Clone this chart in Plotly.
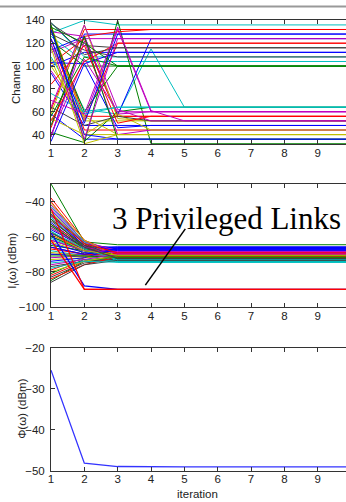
import plotly.graph_objects as go

iterations = list(range(1, 11))

# ---------------- top panel: channel of each link per iteration (held after last listed value)
channel_paths = [
    [129, 140, 136], [62, 132], [38, 128], [112, 124], [132, 52, 120], [137, 118, 116],
    [100, 112], [138, 108], [126, 104], [122, 100], [118, 62, 58, 115, 64], [96, 54, 132, 60],
    [134, 56], [136, 52], [94, 48], [124, 44], [106, 40], [58, 36], [42, 33, 140, 32],
    [114, 126, 57, 124], [102, 124, 56], [130, 126, 58, 60], [136, 34, 60, 64], [58, 136, 54, 52],
    [103, 102, 46, 48], [128, 114, 108], [131, 60, 100], [76, 60, 64], [38, 122, 40, 44],
    [54, 40, 58, 44], [46, 126, 130, 132], [34, 102, 112], [56, 108, 100], [64, 48, 56, 52],
    [64, 136, 62, 52], [100, 56, 40], [84, 118, 50, 56], [108, 58, 64], [48, 126, 36],
    [132, 40, 36], [40, 106, 60], [116, 32, 40], [52, 104, 120], [138, 110, 116],
    [124, 50, 128], [134, 120, 100], [120, 36, 124], [70, 58, 134, 61, 52],
]
channel_colors = [
    "c", "r", "b", "m", "r", "k", "b", "c", "c", "g", "c", "m", "r", "y", "b", "r", "y", "b", "g",
    "b", "r", "m", "g", "y", "b", "k", "g", "c", "m", "y", "r", "b", "g", "k", "m", "y", "r", "c",
    "g", "b", "m", "y", "r", "k", "b", "g", "m", "m",
]

# ---------------- middle panel: interference per link at iterations 1, 2 and steady value (3..10)
interf_start = [
    -52, -30, -40, -47, -58, -55, -62,
    -45, -85, -79, -49, -42, -66, -83,
    -60, -57, -38, -68, -50, -63, -70,
    -48, -65, -82, -54, -72, -46, -58,
    -56, -81, -53, -61, -44, -73, -51,
    -64, -50, -59, -75, -66, -41, -77,
    -70, -60, -67, -43, -55, -80, -47,
    -74, -53, -84, -57, -62, -69, -86,
    -66, -71, -48, -78, -76, -59, -54,
]
interf_iter2 = [
    -66, -63, -64, -66, -66, -67, -68,
    -64, -74, -72, -65, -63, -70, -75,
    -67, -70, -62, -71, -65, -69, -71,
    -65, -68, -74, -66, -71, -64, -67,
    -66, -73, -65, -68, -63, -72, -65,
    -69, -66, -67, -73, -70, -62, -74,
    -70, -68, -70, -63, -66, -74, -64,
    -72, -67, -76, -67, -68, -71, -76,
    -70, -71, -64, -74, -73, -68, -66,
]
interf_steady = [
    -66.5, -64.6, -69.5, -73.5, -68.5, -71.0, -72.0,
    -67.0, -72.0, -70.5, -74.2, -69.0, -70.5, -73.0,
    -66.0, -71.5, -70.0, -74.5, -70.5, -72.0, -71.5,
    -67.5, -70.0, -71.0, -73.0, -69.5, -71.5, -72.5,
    -65.8, -72.5, -70.8, -74.0, -68.0, -70.2, -71.8,
    -67.2, -70.5, -69.8, -73.8, -71.0, -71.3, -72.8,
    -66.8, -71.2, -70.3, -74.3, -69.3, -70.8, -72.2,
    -66.2, -70.8, -71.5, -73.2, -68.8, -71.8, -73.5,
    -67.8, -71.8, -69.2, -74.6, -70.0, -70.6, -72.4,
]
privileged_start = [-58, -62, -44]
privileged_iter2 = [-88, -90, -90]
privileged_steady = [-90, -90, -90]
privileged_colors = ["b", "r", "r"]

# ---------------- bottom panel
phi = [-25.5, -48.2, -49.0, -49.1, -49.1, -49.1, -49.1, -49.1, -49.1, -49.1]

MCOL = {"b": "#0000ff", "g": "#008000", "r": "#ff0000", "c": "#00bfbf",
        "m": "#bf00bf", "y": "#bfbf00", "k": "#404040"}
cycle = ["b", "g", "r", "c", "m", "y", "k"]

fig = go.Figure()

for path, col in zip(channel_paths, channel_colors):
    vals = path + [path[-1]] * (len(iterations) - len(path))
    fig.add_trace(go.Scatter(x=iterations, y=vals, mode="lines", xaxis="x", yaxis="y",
                             line=dict(color=MCOL[col], width=1), showlegend=False, hoverinfo="skip"))

for i, (s, m, f) in enumerate(zip(interf_start, interf_iter2, interf_steady)):
    vals = [s, m] + [f] * (len(iterations) - 2)
    fig.add_trace(go.Scatter(x=iterations, y=vals, mode="lines", xaxis="x2", yaxis="y2",
                             line=dict(color=MCOL[cycle[i % 7]], width=1), showlegend=False, hoverinfo="skip"))
for s, m, f, col in zip(privileged_start, privileged_iter2, privileged_steady, privileged_colors):
    vals = [s, m] + [f] * (len(iterations) - 2)
    fig.add_trace(go.Scatter(x=iterations, y=vals, mode="lines", xaxis="x2", yaxis="y2",
                             line=dict(color=MCOL[col], width=1.2), showlegend=False, hoverinfo="skip"))

fig.add_trace(go.Scatter(x=iterations, y=phi, mode="lines", xaxis="x3", yaxis="y3",
                         line=dict(color="#3333ff", width=1.3), showlegend=False, hoverinfo="skip"))

W, H, L, R = 357, 502, 51, 6
PW = W - L - R
tickfont = dict(family="Liberation Sans, Arial", size=11.5, color="#222222")

def xax(anchor):
    return dict(range=[1, 10], tickvals=iterations, ticktext=[str(v) for v in iterations],
                ticks="inside", ticklen=4, tickcolor="#333333", showline=True, linecolor="#333333",
                linewidth=1, mirror="ticks", showgrid=False, zeroline=False, anchor=anchor,
                domain=[0, 1], tickfont=tickfont, fixedrange=True, ticklabelstandoff=-2)

def yax(anchor, rng, tv, dom):
    return dict(range=rng, tickvals=tv, ticks="inside", ticklen=4, tickcolor="#333333",
                showline=True, linecolor="#333333", linewidth=1, mirror="ticks", showgrid=False,
                zeroline=False, anchor=anchor, domain=dom, tickfont=tickfont, ticklabelstandoff=3,
                fixedrange=True)

def py(p):
    return 1 - p / H

def px(p):
    return (p - L) / PW

fig.update_layout(
    width=W, height=H, margin=dict(l=L, r=R, t=0, b=0),
    paper_bgcolor="white", plot_bgcolor="white",
    xaxis=xax("y"), xaxis2=xax("y2"), xaxis3=xax("y3"),
    yaxis=yax("x", [31.5, 140], [40, 60, 80, 100, 120, 140], [py(141.7), py(14.7)]),
    yaxis2=yax("x2", [-100, -30], [-100, -80, -60, -40], [py(308.3), py(182.3)]),
    yaxis3=yax("x3", [-50, -20], [-50, -40, -30, -20], [py(476), py(350)]),
    font=dict(family="Liberation Sans, Arial", size=11, color="#222222"),
)

title_font = dict(family="Liberation Sans, Arial", size=11.5, color="#222222")
fig.add_annotation(text="Channel", xref="paper", yref="paper", x=px(16.7), y=py(78.2),
                   textangle=-90, showarrow=False, font=title_font, xanchor="center", yanchor="middle")
fig.add_annotation(text="I<sub>i</sub>(ω) (dBm)", xref="paper", yref="paper", x=px(13), y=py(261),
                   textangle=-90, showarrow=False, font=title_font, xanchor="center", yanchor="middle")
fig.add_annotation(text="Φ(ω) (dBm)", xref="paper", yref="paper", x=px(21.7), y=py(413),
                   textangle=-90, showarrow=False, font=title_font, xanchor="center", yanchor="middle")
fig.add_annotation(text="iteration", xref="paper", yref="paper", x=px(197), y=py(496),
                   showarrow=False, font=title_font, xanchor="center", yanchor="bottom", yshift=-12)

fig.add_annotation(text="3 Privileged Links", xref="x2", yref="y2", x=2.78, y=-49.5,
                   showarrow=False, xanchor="left", yanchor="middle",
                   font=dict(family="Liberation Serif, Times New Roman", size=31, color="black"))
fig.add_shape(type="line", xref="x2", yref="y2", x0=5.03, y0=-55.6, x1=3.83, y1=-87.6,
              line=dict(color="black", width=1.5))

fig.add_shape(type="line", xref="paper", yref="paper", x0=px(0), x1=px(W), y0=py(0.5), y1=py(0.5),
              line=dict(color="#999999", width=2))

fig.write_html("out.html", config={"displayModeBar": False},
               post_script="document.body.style.margin='0';document.body.style.overflow='hidden';")
